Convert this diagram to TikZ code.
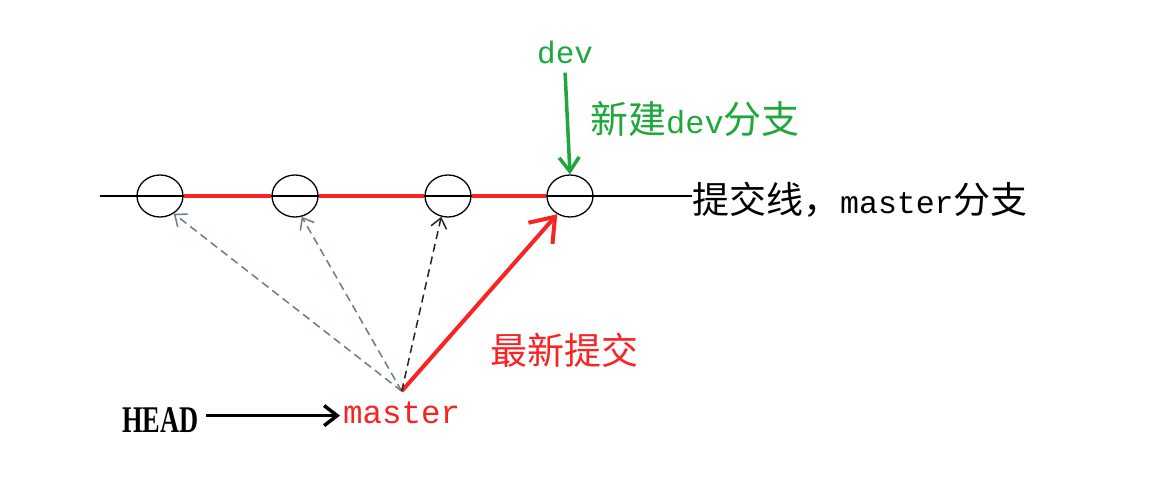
\documentclass[tikz,border=0pt]{standalone}
\usepackage{fontspec}
\usepackage{graphicx}
\setmainfont{Liberation Serif}
\setmonofont{Liberation Mono}
\newfontfamily\cjk{Noto Sans CJK SC}
\usetikzlibrary{arrows.meta,shapes.geometric,positioning}

\definecolor{gitred}{RGB}{250,35,35}
\definecolor{gitgreen}{RGB}{30,168,60}
\definecolor{slate}{RGB}{105,125,135}

\newcommand{\cjkbig}{\cjk\fontsize{37}{42}\selectfont}

\tikzset{
    commit/.style={draw, ellipse, line width=1.3pt, minimum width=46pt, minimum height=42pt, inner sep=0pt},
    txt/.style={inner sep=0pt, anchor=base west},
    redline/.style={gitred, line width=4pt},
    ptr/.style={dash pattern=on 8pt off 5pt, line width=1.5pt, -{Straight Barb[length=10pt,width=16pt,line width=1.5pt]}},
}

\begin{document}
\begin{tikzpicture}[x=1pt,y=-1pt]
        \fill[white] (0,0) rectangle (1152,485);
        \useasboundingbox (0,0) rectangle (1152,485);

        % Commits
        \node[commit] (c1) at (160,196) {};
        \node[commit] (c2) at (295,196) {};
        \node[commit] (c3) at (448,196) {};
        \node[commit] (c4) at (570,196) {};

        \node[txt] (line) at (692,213) {\cjkbig 提交线，{\ttfamily\fontsize{31.5}{34}\selectfont master}分支};
        \coordinate (lstart) at (100,196);
        \draw[line width=1.3pt] (lstart) -- (line.west |- c4.center);
        \foreach \a/\b in {c1/c2,c2/c3,c3/c4}
            \draw[redline] (\a.east) -- (\b.west);

        % dev branch
        \node[txt, gitgreen] (dev) at (537,63) {\ttfamily\fontsize{31}{34}\selectfont dev};
        \node[txt, gitgreen] (newdev) at (590,133) {\cjk\fontsize{38}{42}\selectfont 新建{\ttfamily\fontsize{32}{34}\selectfont dev}分支};
        \draw[gitgreen, line width=3.5pt, -{Straight Barb[length=14pt,width=20pt,line width=3.5pt]}]
            ([yshift=-9pt]dev.south) -- (c4.north);

        % master and HEAD
        \node[txt, gitred] (mst) at (343,423) {\ttfamily\fontsize{32.5}{36}\selectfont master};
        \coordinate[above=10pt of mst.north] (fan);
        \node[txt] (head) at (122,432) {\fontsize{37.7}{42}\selectfont\bfseries\scalebox{0.7}[1]{HEAD}};
        \draw[line width=3.5pt, -{Straight Barb[length=13pt,width=20pt,line width=3.5pt]}]
            ([xshift=7pt,yshift=4pt]head.east) -- ([xshift=-3pt,yshift=4pt]head.east -| mst.west);

        \draw[gitred, line width=4pt, -{Straight Barb[length=22pt,width=32pt,line width=4pt]}] (fan) -- (c4.235);
        \node[txt, gitred] (latest) at (490,364) {\cjkbig 最新提交};

        \draw[ptr, slate] (fan) -- (c1.-52);
        \draw[ptr, slate] (fan) -- (c2.-72);
        \draw[ptr, black!85] (fan) -- (c3.-108);
\end{tikzpicture}
\end{document}
